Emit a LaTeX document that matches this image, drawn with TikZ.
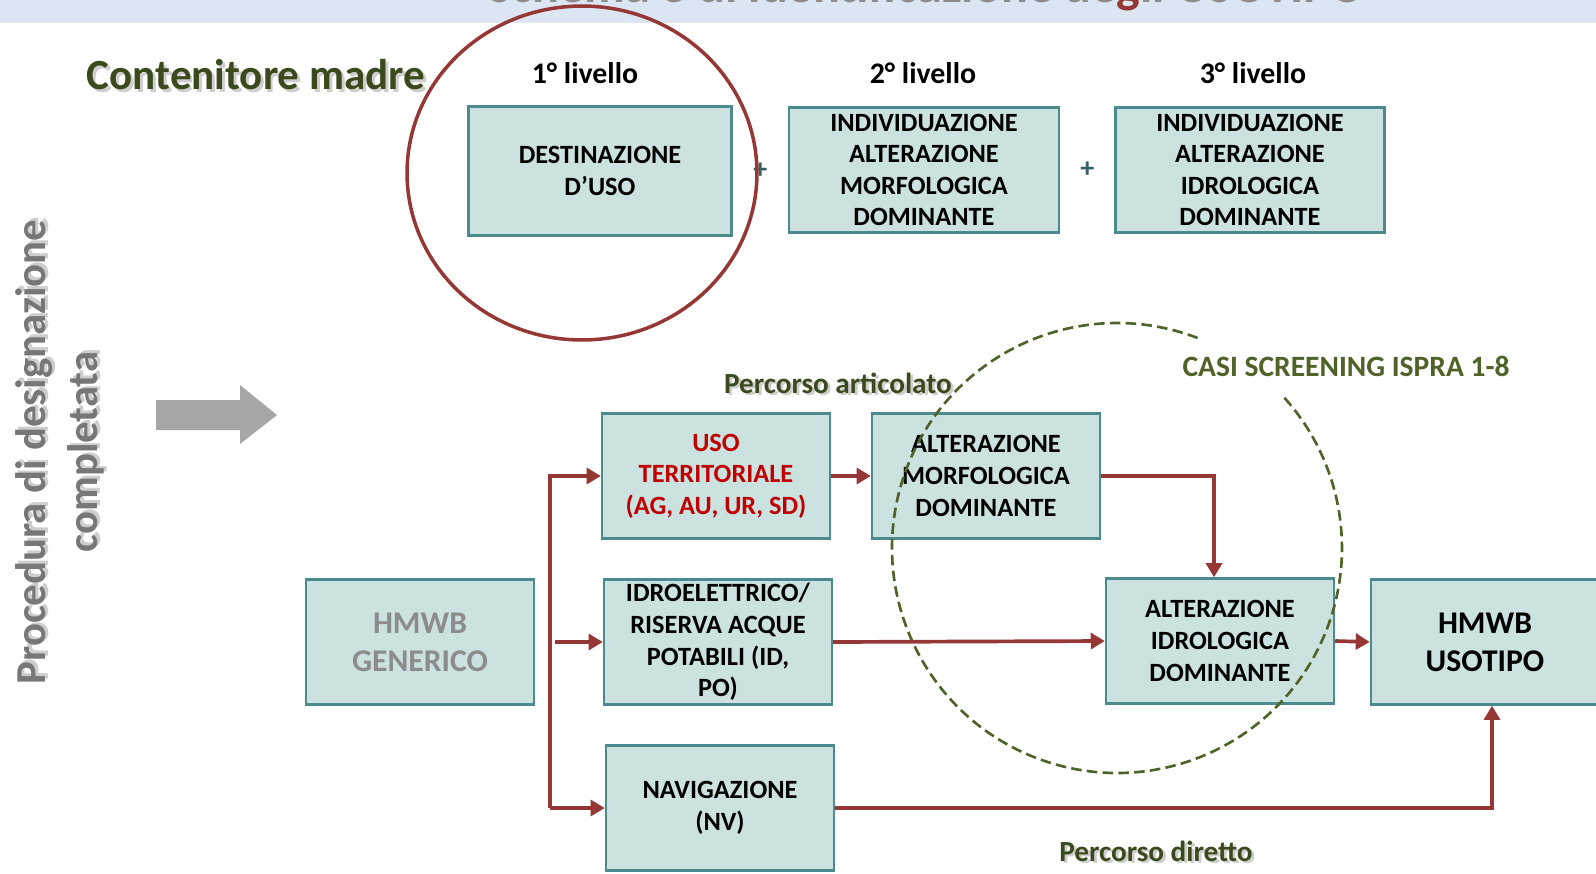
\documentclass[tikz,border=0pt]{standalone}
\usepackage{fontspec}
\setmainfont{Carlito}
\usetikzlibrary{positioning, arrows.meta, calc}
\definecolor{boxfill}{HTML}{CCE2E0}
\definecolor{boxline}{HTML}{4B8B8E}
\definecolor{arrowred}{HTML}{953735}
\definecolor{olive}{HTML}{3A4A1C}
\definecolor{screen}{HTML}{4F6228}
\definecolor{usored}{HTML}{C00000}
\definecolor{greytxt}{HTML}{8C8C8C}
\definecolor{greyarrow}{HTML}{A6A6A6}
\definecolor{band}{HTML}{DCE6F2}
\tikzset{
  box/.style     = {rectangle, draw=boxline, line width=1.4pt, fill=boxfill,
                    minimum width=4.56cm, minimum height=2.5cm, inner sep=1pt,
                    align=center, font=\fontsize{15}{18}\selectfont\bfseries},
  bigbox/.style  = {box, font=\fontsize{18}{21.7}\selectfont\bfseries},
  lvl/.style     = {font=\fontsize{17}{20}\selectfont\bfseries},
  route/.style   = {font=\fontsize{16.6}{19}\selectfont\bfseries, text=olive},
  plus/.style    = {font=\fontsize{16}{19}\selectfont\bfseries, text=boxline!70!black},
  shade/.style   = {text=black!35, opacity=0.55, xshift=1.6pt, yshift=-1.6pt},
  arr/.style     = {-{Triangle[length=8pt,width=9pt]}, line width=2.1pt, draw=arrowred},
  ring/.style    = {draw=arrowred, line width=2pt},
  dashring/.style= {draw=screen, line width=1.5pt, dash pattern=on 6pt off 3pt},
}
% text with a soft drop shadow: name, position, style, text
\newcommand{\shadowlabel}[4]{%
  \node[#3, shade] (#1shd) at #2 {#4};
  \node[#3] (#1) at #2 {#4};}
\begin{document}
\begin{tikzpicture}[x=0.02cm, y=-0.02cm]
  \useasboundingbox (0,0) rectangle (1596,873);
  \clip (0,0) rectangle (1596,873);

  % title band
  \fill[band] (0,0) rectangle (1596,23);
  \node[anchor=base, text=greytxt, font=\fontsize{28.5}{32}\selectfont\bfseries] (title) at (926,2.5)
       {Schema 3 di identificazione de{\color{arrowred}g}li USOTIPO};

  % TOP: contenitore madre
  \shadowlabel{madre}{(256,75)}{font=\fontsize{24.5}{28}\selectfont\bfseries, text=olive}{Contenitore madre}

  \node[box, minimum width=5.26cm, minimum height=2.58cm] (dest) at (600,171) {DESTINAZIONE\\D’USO};
  \node[box, minimum width=5.4cm] (morf1) at (924,170) {INDIVIDUAZIONE\\ALTERAZIONE\\MORFOLOGICA\\DOMINANTE};
  \node[box, minimum width=5.38cm] (idro1) at (1250,170) {INDIVIDUAZIONE\\ALTERAZIONE\\IDROLOGICA\\DOMINANTE};

  \node[lvl] (liv1) at (585,73) {1° livello};
  \node[lvl] (liv2) at (923,73) {2° livello};
  \node[lvl] (liv3) at (1253,73) {3° livello};

  \node[plus] (p1) at ($(dest.east)!0.5!(morf1.west)$) {+};
  \node[plus] (p2) at ($(morf1.east)!0.5!(idro1.west)$) {+};

  \draw[ring] (582,173) ellipse [x radius=3.5cm, y radius=3.34cm];

  % LEFT: procedura completata
  \shadowlabel{proc}{(60,452)}{rotate=90, align=center, text=greytxt!85!black, font=\fontsize{24.3}{30}\selectfont\bfseries}{Procedura di designazione\\completata}
  \fill[greyarrow] (156,400) -- (240,400) -- (240,385) -- (277,415) -- (240,444) -- (240,430) -- (156,430) -- cycle;

  % BOTTOM: percorsi
  \node[bigbox, text=greytxt] (gen) at (420,642) {HMWB\\GENERICO};
  \node[box, text=usored] (uso) at (716,476) {USO\\TERRITORIALE\\(AG, AU, UR, SD)};
  \node[box] (idroel) at (718,642) {IDROELETTRICO/\\RISERVA ACQUE\\POTABILI (ID,\\PO)};
  \node[box] (nav) at (720,808) {NAVIGAZIONE\\(NV)};
  \node[box] (altm) at (986,476) {ALTERAZIONE\\MORFOLOGICA\\DOMINANTE};
  \node[box] (alti) at (1220,641) {ALTERAZIONE\\IDROLOGICA\\DOMINANTE};
  \node[bigbox] (usotipo) at (1485,642) {HMWB\\USOTIPO};

  \draw[dashring] (1117,548) ++(69:4.5cm) arc[start angle=69, end angle=402.6, radius=4.5cm];
  \node[font=\fontsize{16.8}{19}\selectfont\bfseries, text=screen] (casi) at (1346,366) {CASI SCREENING ISPRA 1-8};

  \shadowlabel{artic}{(838,383)}{route}{Percorso articolato}
  \shadowlabel{dirett}{(1156,851)}{route}{Percorso diretto}

  \coordinate (trunk) at (550,642);
  \draw[arr] (trunk |- nav.west) -- (trunk |- uso.west) -- (uso.west);
  \draw[arr] (trunk |- nav.west) -- (nav.west);
  \draw[arr] ($(trunk |- idroel.west)+(5,0)$) -- (idroel.west);
  \draw[arr] (uso.east) -- (altm.west);
  \draw[arr] (altm.east) -| ($(alti.north)+(-6,0)$);
  \draw[arr] (idroel.east) -- (alti.west);
  \draw[arr] (alti.east) -- (usotipo.west);
  \draw[arr] (nav.east) -| ($(usotipo.south)+(7,0)$);

\end{tikzpicture}
\end{document}
